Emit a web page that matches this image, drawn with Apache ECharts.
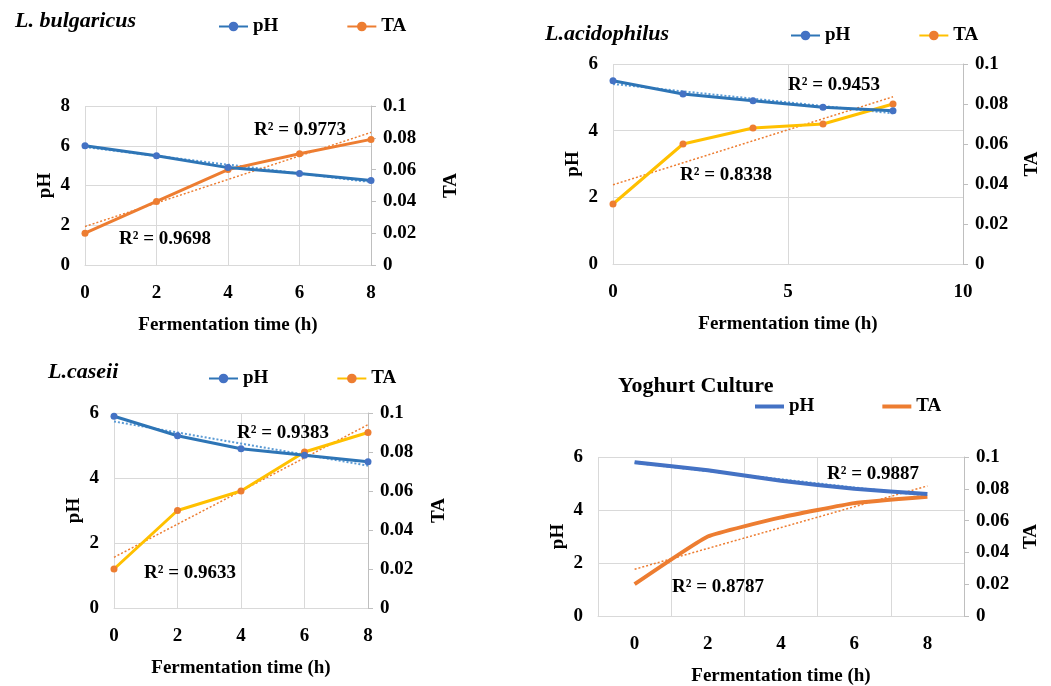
<!DOCTYPE html>
<html>
<head>
<meta charset="utf-8">
<script src="https://cdn.jsdelivr.net/npm/echarts@6/dist/echarts.min.js"></script>
<style>
  html, body { margin: 0; padding: 0; background: #fff; }
  #main { width: 1051px; height: 686px; }
</style>
</head>
<body>
<div id="main"></div>
<script>
// fermentation time (h)
var hours = [0, 2, 4, 6, 8];

// pH and titratable acidity per culture
var phBulgaricus = [6.0, 5.5, 4.9, 4.6, 4.25];
var taBulgaricus = [0.02, 0.04, 0.06, 0.07, 0.079];
var phAcidophilus = [5.5, 5.1, 4.9, 4.7, 4.6];
var taAcidophilus = [0.03, 0.06, 0.068, 0.07, 0.08];
var phCaseii = [5.9, 5.3, 4.9, 4.7, 4.5];
var taCaseii = [0.02, 0.05, 0.06, 0.08, 0.09];
var phYoghurt = [5.8, 5.5, 5.1, 4.8, 4.6];
var taYoghurt = [0.02, 0.05, 0.062, 0.071, 0.075];

var panelTitles = ['L. bulgaricus', 'L.acidophilus', 'L.caseii', 'Yoghurt Culture'];
var phR2 = ['R² = 0.9773', 'R² = 0.9453', 'R² = 0.9383', 'R² = 0.9887'];
var taR2 = ['R² = 0.9698', 'R² = 0.8338', 'R² = 0.9633', 'R² = 0.8787'];

var SERIF = '"Liberation Serif", "Times New Roman", serif';

var panels = [
  { ph: phBulgaricus, ta: taBulgaricus, grid: { left: 85, top: 106, width: 286, height: 159 },
    phMax: 8, xMax: 8, xInterval: 2, category: false, taGap: 71,
    phColor: '#2E75B6', phMarker: '#4472C4', taColor: '#ED7D31', taMarker: '#ED7D31',
    title: { left: 15, top: 10, italic: true }, legend: { left: 218, top: 17 },
    phLabel: [300, 130], taLabel: [165, 239] },
  { ph: phAcidophilus, ta: taAcidophilus, grid: { left: 613, top: 64, width: 350, height: 200 },
    phMax: 6, xMax: 10, xInterval: 5, category: false, taGap: 60,
    phColor: '#2E75B6', phMarker: '#4472C4', taColor: '#FFC000', taMarker: '#ED7D31',
    title: { left: 545, top: 23, italic: true }, legend: { left: 790, top: 26 },
    phLabel: [834, 85], taLabel: [726, 175] },
  { ph: phCaseii, ta: taCaseii, grid: { left: 114, top: 413, width: 254, height: 195 },
    phMax: 6, xMax: 8, xInterval: 2, category: false, taGap: 62,
    phColor: '#2E75B6', phMarker: '#4472C4', taColor: '#FFC000', taMarker: '#ED7D31',
    title: { left: 48, top: 361, italic: true }, legend: { left: 208, top: 369 },
    phLabel: [283, 433], taLabel: [190, 573] },
  { ph: phYoghurt, ta: taYoghurt, grid: { left: 598, top: 457, width: 366, height: 159 },
    phMax: 6, xMax: 8, xInterval: 2, category: true, taGap: 58,
    phColor: '#4472C4', phMarker: null, taColor: '#ED7D31', taMarker: null,
    title: { left: 618, top: 375, italic: false }, legend: { left: 755, top: 397 },
    phLabel: [873, 474], taLabel: [718, 587] }
];

// least squares line, same as the excel trendline
function linFit (xs, ys) {
  var n = xs.length, mx = 0, my = 0, sxy = 0, sxx = 0;
  for (var i = 0; i < n; i++) { mx += xs[i] / n; my += ys[i] / n; }
  for (var j = 0; j < n; j++) {
    sxy += (xs[j] - mx) * (ys[j] - my);
    sxx += (xs[j] - mx) * (xs[j] - mx);
  }
  var a = sxy / sxx;
  return { a: a, b: my - a * mx };
}

function pairs (ys) {
  return hours.map(function (h, i) { return [h, ys[i]]; });
}

function trend (ys, category) {
  var f = linFit(hours, ys);
  return hours.map(function (h) {
    var v = f.a * h + f.b;
    return category ? v : [h, v];
  });
}

var labelStyle = { fontFamily: SERIF, fontWeight: 'bold', fontSize: 19, color: '#000' };
var gridLine = { lineStyle: { color: '#d9d9d9', width: 1 } };

var option = {
  backgroundColor: '#fff',
  animation: false,
  title: [], legend: [], grid: [], xAxis: [], yAxis: [], series: [], graphic: []
};

panels.forEach(function (p, k) {
  var phName = 'pH#' + k, taName = 'TA#' + k;

  option.title.push({
    text: panelTitles[k], left: p.title.left, top: p.title.top, padding: 0,
    textStyle: { fontFamily: SERIF, fontWeight: 'bold', fontStyle: p.title.italic ? 'italic' : 'normal',
      fontSize: 22, color: '#000' }
  });

  var leg = {
    data: [phName, taName], left: p.legend.left, top: p.legend.top, padding: 0,
    itemGap: 68, itemWidth: 29, itemHeight: 12,
    formatter: function (name) { return name.split('#')[0]; },
    textStyle: labelStyle
  };
  if (p.category) {
    // plain thick line, no marker
    leg.icon = 'rect';
    leg.itemHeight = 4;
  }
  option.legend.push(leg);

  option.grid.push(Object.assign({ outerBoundsMode: 'none', containLabel: false }, p.grid));

  var xBase = {
    gridIndex: k,
    name: 'Fermentation time (h)', nameLocation: 'middle', nameGap: 51, nameTextStyle: labelStyle,
    axisLine: { show: true, lineStyle: { color: '#d9d9d9' } }, axisTick: { show: false },
    axisLabel: Object.assign({ margin: 19 }, labelStyle),
    splitLine: Object.assign({ show: true }, gridLine)
  };
  if (p.category) {
    option.xAxis.push(Object.assign({ type: 'category', data: hours.map(String), boundaryGap: true }, xBase));
  } else {
    option.xAxis.push(Object.assign({ type: 'value', min: 0, max: p.xMax, interval: p.xInterval }, xBase));
  }

  option.yAxis.push({
    type: 'value', gridIndex: k, position: 'left', min: 0, max: p.phMax, interval: 2,
    name: 'pH', nameLocation: 'middle', nameGap: 30, nameTextStyle: labelStyle,
    axisLine: { show: false }, axisTick: { show: false },
    axisLabel: Object.assign({ margin: 15 }, labelStyle),
    splitLine: Object.assign({ show: true }, gridLine)
  });
  option.yAxis.push({
    type: 'value', gridIndex: k, position: 'right', min: 0, max: 0.1, interval: 0.02,
    name: 'TA', nameLocation: 'middle', nameGap: p.taGap, nameTextStyle: labelStyle,
    axisLine: { show: true, lineStyle: { color: '#bfbfbf' } },
    axisTick: { show: true, length: 5, lineStyle: { color: '#bfbfbf' } },
    axisLabel: Object.assign({ margin: 12 }, labelStyle),
    splitLine: { show: false }
  });

  var phData = p.category ? p.ph : pairs(p.ph);
  var taData = p.category ? p.ta : pairs(p.ta);
  var lw = p.category ? 4 : 3;

  // dotted trendlines under the data lines
  option.series.push({
    name: 'phTrend' + k, type: 'line', xAxisIndex: k, yAxisIndex: 2 * k, data: trend(p.ph, p.category),
    symbol: 'none', silent: true, z: 1,
    lineStyle: { color: '#5B9BD5', width: 2, type: [2, 2] }
  });
  option.series.push({
    name: 'taTrend' + k, type: 'line', xAxisIndex: k, yAxisIndex: 2 * k + 1, data: trend(p.ta, p.category),
    symbol: 'none', silent: true, z: 1,
    lineStyle: { color: '#ED7D31', width: 1.5, type: [2, 2] }
  });

  option.series.push({
    name: phName, type: 'line', xAxisIndex: k, yAxisIndex: 2 * k, data: phData, z: 3,
    smooth: p.category ? 0.12 : false,
    symbol: p.phMarker ? 'circle' : 'none', symbolSize: 7,
    lineStyle: { color: p.phColor, width: lw },
    itemStyle: { color: p.phMarker || p.phColor }
  });
  option.series.push({
    name: taName, type: 'line', xAxisIndex: k, yAxisIndex: 2 * k + 1, data: taData, z: 2,
    smooth: p.category ? 0.12 : false,
    symbol: p.taMarker ? 'circle' : 'none', symbolSize: 7,
    lineStyle: { color: p.taColor, width: lw },
    itemStyle: { color: p.taMarker || p.taColor }
  });

  // R² annotations
  [[phR2[k], p.phLabel], [taR2[k], p.taLabel]].forEach(function (t) {
    option.graphic.push({
      type: 'text', x: t[1][0], y: t[1][1], z: 10,
      style: { text: t[0], fill: '#000', font: 'bold 19px ' + SERIF, align: 'center', verticalAlign: 'middle' }
    });
  });
});

var chart = echarts.init(document.getElementById('main'));
chart.setOption(option);
</script>
</body>
</html>
